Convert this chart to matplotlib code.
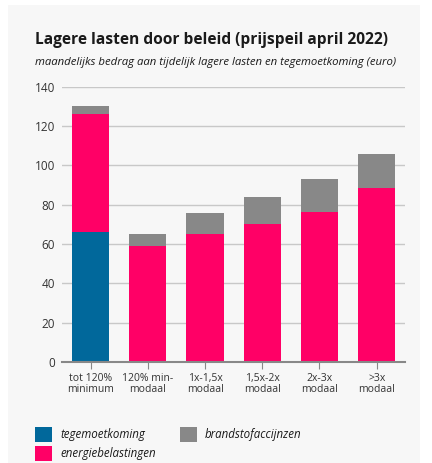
import matplotlib
matplotlib.use("Agg")
import matplotlib.pyplot as plt
from matplotlib.patches import Rectangle

categories = ["tot 120%\nminimum", "120% min-\nmodaal", "1x-1,5x\nmodaal", "1,5x-2x\nmodaal", "2x-3x\nmodaal", ">3x\nmodaal"]
tegemoetkoming = [66, 0, 0, 0, 0, 0]
energiebelastingen = [60, 59, 65, 70, 76.5, 88.7]
brandstofaccijnzen = [4, 6, 11, 14, 16.5, 17.2]
yticks = [0, 20, 40, 60, 80, 100, 120, 140]

BLUE = "#01689B"
PINK = "#FF0066"
GRAY = "#888888"
BG = "#F7F7F7"

plt.rcParams['font.family'] = ['Open Sans', 'DejaVu Sans']

W, H = 432, 463
fig = plt.figure(figsize=(W / 100, H / 100), dpi=100)
fig.patch.set_facecolor("white")
fig.add_artist(Rectangle((8 / W, 0), (420 - 8) / W, (H - 5) / H, transform=fig.transFigure,
                         facecolor=BG, edgecolor="none", zorder=-10))

ax = fig.add_axes([62 / W, 1 - 362 / H, (405.3 - 62) / W, (362 - 86.7) / H])
ax.set_facecolor(BG)

x = list(range(len(categories)))
w = 0.65
ax.bar(x, tegemoetkoming, width=w, color=BLUE, zorder=3)
ax.bar(x, energiebelastingen, width=w, bottom=tegemoetkoming, color=PINK, zorder=3)
bottom2 = [a + b for a, b in zip(tegemoetkoming, energiebelastingen)]
ax.bar(x, brandstofaccijnzen, width=w, bottom=bottom2, color=GRAY, zorder=3)

ax.set_xlim(-0.5, 5.5)
ax.set_ylim(0, 140)
ax.set_yticks(yticks)
ax.set_yticklabels([str(v) for v in yticks], fontsize=8.5, color="#333333")
ax.yaxis.grid(True, color="#C8C8C8", linewidth=1, zorder=0)
ax.tick_params(axis="y", length=0, pad=5)
ax.set_xticks(x)
ax.set_xticklabels(categories, fontsize=7.5, color="#333333", linespacing=0.95)
ax.tick_params(axis="x", length=5, color="#888888", width=0.8, pad=3)
for s in ["top", "right", "left"]:
    ax.spines[s].set_visible(False)
ax.spines["bottom"].set_color("#888888")
ax.spines["bottom"].set_linewidth(1.5)
ax.spines["bottom"].set_zorder(4)

fig.text(35 / W, 1 - 40 / H, "Lagere lasten door beleid (prijspeil april 2022)",
         fontsize=11.2, fontweight="bold", color="#1a1a1a", va="center", ha="left")
fig.text(35 / W, 1 - 62 / H, "maandelijks bedrag aan tijdelijk lagere lasten en tegemoetkoming (euro)",
         fontsize=8.2, fontstyle="italic", color="#1a1a1a", va="center", ha="left")

legend_items = [
    (35, 427, BLUE, "tegemoetkoming"),
    (35, 446, PINK, "energiebelastingen"),
    (180, 427, GRAY, "brandstofaccijnzen"),
]
for lx, ly, c, label in legend_items:
    fig.add_artist(Rectangle((lx / W, 1 - (ly + 15) / H), 17 / W, 15 / H,
                             transform=fig.transFigure, facecolor=c, edgecolor="none"))
    fig.text((lx + 25) / W, 1 - (ly + 7.5) / H, label, fontsize=8.3, fontstyle="italic",
             color="#1a1a1a", va="center", ha="left")

fig.savefig("out.png", dpi=100, facecolor=fig.get_facecolor())
